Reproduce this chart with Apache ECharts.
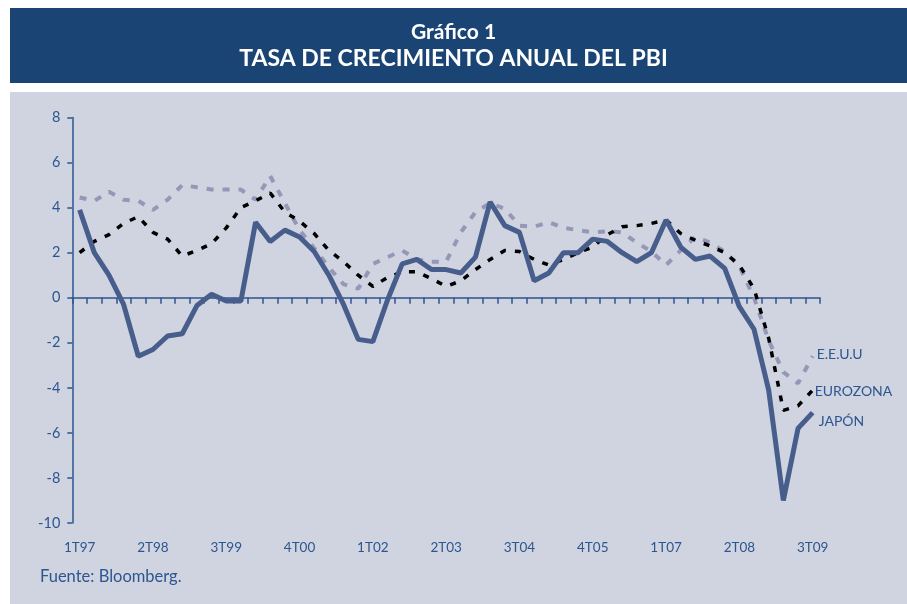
<!DOCTYPE html>
<html>
<head>
<meta charset="utf-8">
<script src="https://cdn.jsdelivr.net/npm/echarts@6/dist/echarts.min.js"></script>
<style>
html,body{margin:0;padding:0;background:#ffffff;}
#chart{width:907px;height:604px;}
</style>
</head>
<body>
<div id="chart"></div>
<script>
const categories = [
  "1T97","2T97","3T97","4T97","1T98","2T98","3T98","4T98",
  "1T99","2T99","3T99","4T99","1T00","2T00","3T00","4T00",
  "1T01","2T01","3T01","4T01","1T02","2T02","3T02","4T02",
  "1T03","2T03","3T03","4T03","1T04","2T04","3T04","4T04",
  "1T05","2T05","3T05","4T05","1T06","2T06","3T06","4T06",
  "1T07","2T07","3T07","4T07","1T08","2T08","3T08","4T08",
  "1T09","2T09","3T09"
];
const eeuu = [
  4.45, 4.3, 4.7, 4.35, 4.3, 3.9, 4.35, 5.0, 4.9, 4.8, 4.8, 4.8,
  4.35, 5.4, 4.2, 3.0, 2.2, 1.35, 0.6, 0.4, 1.5, 1.8, 2.1, 1.7,
  1.6, 1.6, 2.9, 3.8, 4.2, 3.95, 3.2, 3.15, 3.35, 3.1, 3.0, 2.9,
  2.95, 2.9, 2.45, 2.05, 1.45, 2.1, 2.7, 2.45, 2.05, 1.4, 0.0, -1.9,
  -3.3, -3.8, -2.6
];
const eurozona = [
  2.0, 2.5, 2.8, 3.3, 3.6, 2.9, 2.6, 1.85, 2.1, 2.4, 3.1, 4.0,
  4.3, 4.65, 3.8, 3.4, 2.85, 2.1, 1.6, 1.0, 0.5, 0.9, 1.15, 1.15,
  0.85, 0.5, 0.75, 1.25, 1.7, 2.1, 2.05, 1.7, 1.45, 1.7, 2.0, 2.25,
  2.8, 3.15, 3.2, 3.3, 3.45, 2.85, 2.55, 2.3, 2.0, 1.45, 0.4, -1.8,
  -5.0, -4.8, -4.1
];
const japon = [
  3.9, 2.0, 1.0, -0.3, -2.6, -2.3, -1.7, -1.6, -0.35, 0.15, -0.15, -0.15,
  3.35, 2.5, 3.0, 2.7, 2.05, 1.0, -0.3, -1.85, -1.95, -0.1, 1.5, 1.7,
  1.25, 1.25, 1.1, 1.8, 4.25, 3.2, 2.9, 0.75, 1.1, 2.0, 2.0, 2.6,
  2.5, 2.0, 1.6, 2.0, 3.45, 2.25, 1.7, 1.85, 1.3, -0.4, -1.4, -4.1,
  -9.0, -5.8, -5.1
];
const yMin = -10, yMax = 8, yStep = 2;

const blue = '#2c5690';
const font = 'Lato, "Open Sans", sans-serif';

const chart = echarts.init(document.getElementById('chart'), null, {renderer: 'canvas'});
chart.setOption({
  backgroundColor: 'transparent',
  animation: false,
  graphic: [
    {type: 'rect', z: -10, shape: {x: 10, y: 8, width: 897, height: 75}, style: {fill: '#1a4474'}},
    {type: 'rect', z: -10, shape: {x: 10, y: 92, width: 897, height: 512}, style: {fill: '#d0d3e0'}}
  ],
  title: [
    {text: 'Gráfico 1', left: 'center', top: 20, padding: 0,
     textStyle: {color: '#ffffff', fontFamily: font, fontWeight: 'bold', fontSize: 21, lineHeight: 24}},
    {text: 'TASA DE CRECIMIENTO ANUAL DEL PBI', left: 'center', top: 46, padding: 0,
     textStyle: {color: '#ffffff', fontFamily: font, fontWeight: 'bold', fontSize: 23, lineHeight: 26}},
    {text: 'Fuente: Bloomberg.', left: 40, top: 568, padding: 0,
     textStyle: {color: blue, fontFamily: font, fontWeight: 'normal', fontSize: 16.5, lineHeight: 18}}
  ],
  grid: {left: 72.3, right: 87, top: 117.5, bottom: 81, containLabel: false},
  xAxis: [
    {type: 'category', data: categories, boundaryGap: true,
     axisLine: {show: true, onZero: true, lineStyle: {color: blue, width: 1.5}},
     axisTick: {show: true, interval: 0, length: 6, lineStyle: {color: blue, width: 1.5}},
     axisLabel: {show: false}, splitLine: {show: false}},
    {type: 'category', data: categories, boundaryGap: true, position: 'bottom',
     axisLine: {show: false, onZero: false}, axisTick: {show: false},
     axisLabel: {show: true, interval: 4, margin: 18, color: blue, fontFamily: font, fontSize: 13.5},
     splitLine: {show: false}}
  ],
  yAxis: {
    type: 'value', min: yMin, max: yMax, interval: yStep,
    axisLine: {show: true, lineStyle: {color: blue, width: 1.5}},
    axisTick: {show: true, length: 5, lineStyle: {color: blue, width: 1.5}},
    axisLabel: {color: blue, fontFamily: font, fontSize: 14.5, margin: 12},
    splitLine: {show: false}
  },
  series: [
    {name: 'E.E.U.U', type: 'line', data: eeuu, symbol: 'none', z: 2,
     lineStyle: {color: '#9696b6', width: 4, type: [7, 9]},
     endLabel: {show: true, formatter: 'E.E.U.U', color: blue, fontFamily: font, fontSize: 14, offset: [-4, -2]}},
    {name: 'EUROZONA', type: 'line', data: eurozona, symbol: 'none', z: 3,
     lineStyle: {color: '#000000', width: 3.5, type: [6, 9]},
     endLabel: {show: true, formatter: 'EUROZONA', color: blue, fontFamily: font, fontSize: 14, offset: [-6, 1]}},
    {name: 'JAPÓN', type: 'line', data: japon, symbol: 'none', z: 4,
     lineStyle: {color: '#475d8c', width: 5, type: 'solid'},
     endLabel: {show: true, formatter: 'JAPÓN', color: blue, fontFamily: font, fontSize: 14, offset: [-2, 9]}}
  ]
});
</script>
</body>
</html>
